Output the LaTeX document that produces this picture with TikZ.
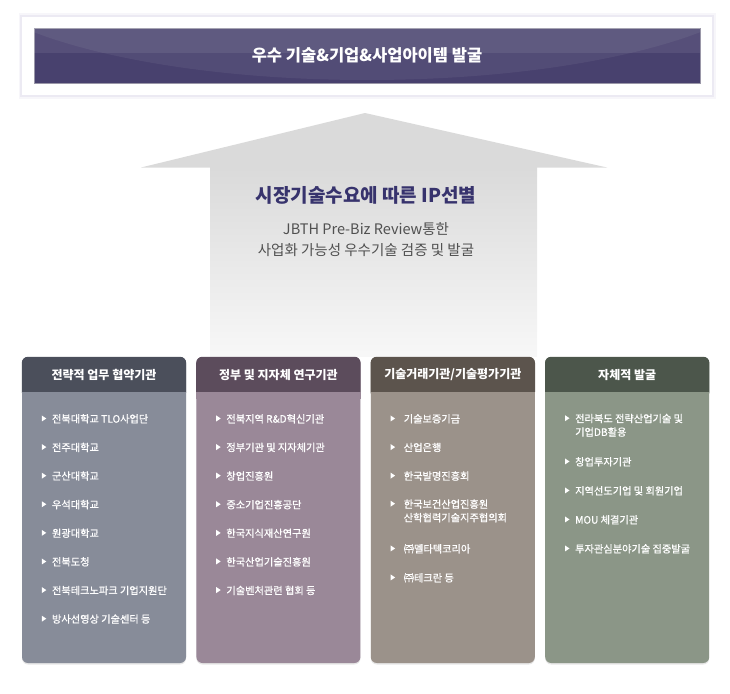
\documentclass[tikz,border=0pt]{standalone}
\usepackage{fontspec}
\setmainfont{Noto Sans CJK KR}
\newfontfamily\itemfont[FakeBold=0.9]{Noto Sans CJK KR}
\usepackage{xcolor}
\usepackage{tikz}
\usetikzlibrary{positioning, shadows, calc}
\definecolor{bannerdark}{HTML}{48416E}
\definecolor{bannerline}{HTML}{9A97A8}
\definecolor{glowa}{HTML}{F7F6FA}
\definecolor{glowb}{HTML}{ECEAF3}
\definecolor{arrowgray}{HTML}{DADADA}
\definecolor{titleblue}{HTML}{37336D}
\definecolor{subgray}{HTML}{505050}
\definecolor{hdone}{HTML}{4B4F5B}
\definecolor{bdone}{HTML}{878C99}
\definecolor{hdtwo}{HTML}{5C4C5C}
\definecolor{bdtwo}{HTML}{9A8898}
\definecolor{hdthree}{HTML}{5C544D}
\definecolor{bdthree}{HTML}{9B928A}
\definecolor{hdfour}{HTML}{4C564B}
\definecolor{bdfour}{HTML}{8B9687}
\tikzstyle{topframe}=[%
      rectangle, fill=white, draw=glowb, line width=1.2pt, preaction={draw=glowa, line width=5pt},
      minimum width=692pt, minimum height=80pt, inner sep=0pt
]
\tikzstyle{bannerbox}=[%
      rectangle, fill=bannerdark, draw=bannerline, line width=.8pt,
      minimum width=666pt, minimum height=55pt, inner sep=0pt
]
\tikzstyle{colbox}=[%
      rectangle, rounded corners=6pt, drop shadow={shadow xshift=0pt, shadow yshift=-1.5pt, opacity=.2},
      minimum width=164pt, minimum height=306pt, inner sep=0pt
]
\tikzstyle{hd}=[text=white, font=\bfseries\fontsize{12}{14}\selectfont]
\tikzstyle{it}=[text=white, font=\itemfont\fontsize{10.2}{13.5}\selectfont, anchor=west, align=left, inner sep=0pt]
\tikzstyle{bul}=[fill=white]

\begin{document}
\begin{tikzpicture}[x=1pt, y=-1pt, node distance=10pt]
  \useasboundingbox (0,0) rectangle (730,693);

  \node[topframe]  (frame)     at (367,56)   {};
  \node[bannerbox] (bannerbox) at (367,55.5) {};
  \begin{scope}
    \clip (bannerbox.north west) rectangle (bannerbox.south east);
    \fill[white, opacity=.06] (367,-40) ellipse (417 and 120);
    \fill[white, opacity=.08] (bannerbox.north west) rectangle ($(bannerbox.east)+(0,-2)$);
  \end{scope}
  \node[text=white, font=\bfseries\fontsize{16.5}{18}\selectfont] (banner) at (bannerbox.center) {우수 기술\&기업\&사업아이템 발굴};

  \fill[arrowgray] (141,167.5) -- (365,113) -- (607,167.5) -- cycle;
  \shade[top color=arrowgray, middle color=arrowgray!70!white, bottom color=white!97!black] (210,167) rectangle (537,356);
  \node[text=titleblue, font=\bfseries\fontsize{19}{21}\selectfont] (title) at (366,195) {시장기술수요에 따른 IP선별};
  \node[text=subgray, font=\fontsize{14.5}{21}\selectfont, align=center] (sub) at (366,239.5) {JBTH Pre-Biz Review통한\\사업화 가능성 우수기술 검증 및 발굴};

  \node[colbox, fill=bdone]   (c1) at (104,510) {};
  \node[colbox, fill=bdtwo]   (c2) [right = of c1] {};
  \node[colbox, fill=bdthree] (c3) [right = of c2] {};
  \node[colbox, fill=bdfour]  (c4) [right = of c3] {};

  \foreach \col/\hc/\bc in {c1/hdone/bdone, c2/hdtwo/bdtwo, c3/hdthree/bdthree, c4/hdfour/bdfour} {
    \fill[\hc, rounded corners=6pt] (\col.north west) rectangle ($(\col.north east)+(0,41)$);
    \fill[\bc] ($(\col.north west)+(0,35)$) rectangle ($(\col.north east)+(0,42)$);
  }
  \node[hd] (h1) at ($(c1.north)+(0,18)$) {전략적 업무 협약기관};
  \node[hd] (h2) at ($(c2.north)+(0,18)$) {정부 및 지자체 연구기관};
  \node[hd] (h3) at ($(c3.north)+(0,18)$) {기술거래기관/기술평가기관};
  \node[hd] (h4) at ($(c4.north)+(0,18)$) {자체적 발굴};

  \foreach \txt [count=\i] in {전북대학교 TLO사업단, 전주대학교, 군산대학교, 우석대학교, 원광대학교, 전북도청, 전북테크노파크 기업지원단, 방사선영상 기술센터 등} {
    \node[it] (a\i) at ($(c1.north west)+(30,62+28.6*\i-28.6)$) {\txt};
    \fill[bul] ($(a\i.north west)+(-10,1.5)$) -- ++(4.5,3) -- ++(-4.5,3) -- cycle;
  }
  \foreach \txt [count=\i] in {전북지역 R\&D혁신기관, 정부기관 및 지자체기관, 창업진흥원, 중소기업진흥공단, 한국지식재산연구원, 한국산업기술진흥원, 기술벤처관련 협회 등} {
    \node[it] (b\i) at ($(c2.north west)+(30,62+28.6*\i-28.6)$) {\txt};
    \fill[bul] ($(b\i.north west)+(-10,1.5)$) -- ++(4.5,3) -- ++(-4.5,3) -- cycle;
  }
  \foreach \txt/\y [count=\i] in {기술보증기금/62, 산업은행/90.6, 한국발명진흥회/119.2, 한국보건산업진흥원\\산학협력기술지주협의회/154, ㈜멜타텍코리아/192, ㈜테크란 등/221} {
    \node[it] (d\i) at ($(c3.north west)+(33,\y)$) {\txt};
    \fill[bul] ($(d\i.north west)+(-13,1.5)$) -- ++(4.5,3) -- ++(-4.5,3) -- cycle;
  }
  \foreach \txt/\y [count=\i] in {전라북도 전략산업기술 및\\기업DB활용/68.5, 창업투자기관/105, 지역선도기업 및 회원기업/134, MOU 체결기관/163, 투자관심분야기술 집중발굴/192} {
    \node[it] (e\i) at ($(c4.north west)+(30,\y)$) {\txt};
    \fill[bul] ($(e\i.north west)+(-10,1.5)$) -- ++(4.5,3) -- ++(-4.5,3) -- cycle;
  }
\end{tikzpicture}
\end{document}
